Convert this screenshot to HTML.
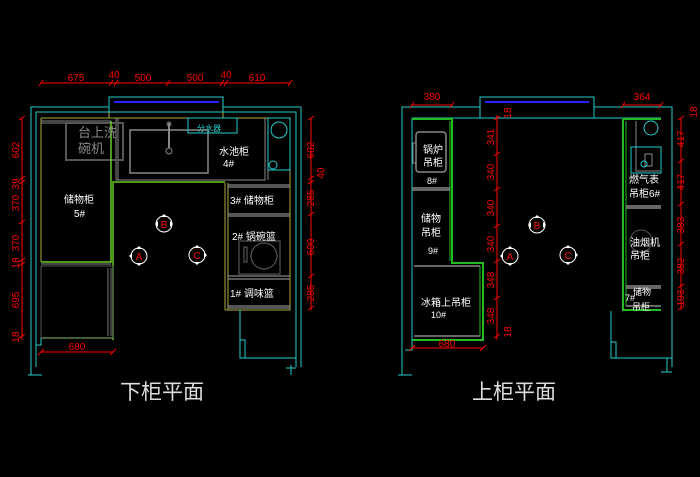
<!DOCTYPE html>
<html><head><meta charset="utf-8"><style>
html,body{margin:0;padding:0;background:#000;width:700px;height:477px;overflow:hidden}
svg{display:block}
text{font-family:"Liberation Sans","Noto Sans CJK SC",sans-serif}
.r{fill:#f00;font-size:10px}
.w{fill:#fff;font-size:10px}
.g{fill:#888;font-size:13px}
</style></head><body>
<svg width="700" height="477" viewBox="0 0 700 477" xmlns="http://www.w3.org/2000/svg">
<rect width="700" height="477" fill="#000"/>
<!-- ========== LEFT PLAN ========== -->
<g fill="none" stroke-width="1">
<!-- walls -->
<path d="M31 367 V107 H109 M223 107 H301 V367" stroke="#2cc"/>
<path d="M36 367 V112 H109 M223 112 H296 V367" stroke="#2cc"/>
<rect x="109" y="97" width="114" height="15" stroke="#2cc"/>
<line x1="114" y1="102" x2="219" y2="102" stroke="#22f" stroke-width="2"/>
<path d="M109 112 V118 M223 112 V118" stroke="#aa4"/>
<!-- yellow counters -->
<path d="M41 118 H290 V310 H225 M41 118 V262" stroke="#aa4"/>
<!-- gray inner lines -->
<path d="M41 121 H111 M41 123 H111" stroke="#888"/>
<path d="M116 118 V180 H265 V118 M118 118 V180" stroke="#888"/>
<path d="M265 118 V180 M268 118 V180" stroke="#888"/>
<rect x="268" y="118" width="22" height="52" stroke="#2cc"/>
<circle cx="279" cy="130" r="8" stroke="#2cc"/>
<circle cx="273" cy="165" r="4" stroke="#2cc"/>
<!-- dishwasher box -->
<rect x="66" y="123" width="57" height="37" stroke="#555" stroke-width="2"/>
<!-- sink -->
<rect x="130" y="130" width="78" height="43" stroke="#888" stroke-width="1.5"/>
<path d="M169 123 V148" stroke="#888" stroke-width="2"/>
<circle cx="169" cy="151" r="3" stroke="#888"/>
<circle cx="169" cy="124" r="2" stroke="#888"/>
<rect x="188" y="118" width="49" height="15" stroke="#2cc"/>
<!-- green -->
<path d="M113 340 V182 H225 M111 121 V262 H41 M41 338 H113" stroke="#6c2" stroke-width="1.5"/>
<path d="M41 264 H111 M41 266 H111" stroke="#888"/>
<rect x="41" y="266" width="72" height="72" stroke="#555"/>
<path d="M108 268 V336 M111 268 V336" stroke="#777"/>
<!-- right cabinets -->
<path d="M225 183 V310 M228 183 V310" stroke="#aa4"/>
<path d="M228 185 H290 M228 187 H290 M228 214 H290 M228 216 H290 M228 276 H290 M228 279 H290 M228 306 H290 M228 308 H290" stroke="#888" stroke-width="1.3"/>
<rect x="239" y="241" width="41" height="33" stroke="#666"/>
<circle cx="264" cy="256" r="13" stroke="#666"/>
<rect x="244" y="247" width="3" height="15" stroke="#666"/>
<!-- bottom right -->
<path d="M240 310 V358 H296 M240 340 H245 V358" stroke="#2cc"/>
<path d="M291 365 V375 M286 368 H296 M31 367 V375 M28 375 H42" stroke="#2cc"/>
<path d="M41 338 V345 H36" stroke="#2cc"/>
</g>
<!-- left dims -->
<g stroke="#f00" fill="none" stroke-width="1">
<line x1="41" y1="83" x2="290" y2="83"/>
<path d="M39 86 L43 80 M109 86 L113 80 M114 86 L118 80 M166 86 L170 80 M220 86 L224 80 M224 86 L228 80 M288 86 L292 80"/>
<line x1="22" y1="118" x2="22" y2="340"/>
<path d="M19 120 L25 116 M19 180 L25 176 M19 184 L25 180 M19 224 L25 220 M19 262 L25 258 M19 266 L25 262 M19 338 L25 334"/>
<line x1="311" y1="118" x2="311" y2="310"/>
<path d="M308 120 L314 116 M308 180 L314 176 M308 184 L314 180 M308 216 L314 212 M308 278 L314 274 M308 310 L314 306"/>
<line x1="41" y1="352" x2="113" y2="352"/>
<path d="M38 355 L44 349 M110 355 L116 349"/>
</g>
<g class="r" text-anchor="middle">
<text x="76" y="81">675</text><text x="114" y="78">40</text><text x="143" y="81">500</text><text x="195" y="81">500</text><text x="226" y="78">40</text><text x="257" y="81">610</text>
<text x="77" y="350">680</text>
<text transform="translate(19 150) rotate(-90)">602</text>
<text transform="translate(19 184) rotate(-90)">39</text>
<text transform="translate(19 203) rotate(-90)">370</text>
<text transform="translate(19 243) rotate(-90)">370</text>
<text transform="translate(19 263) rotate(-90)">18</text>
<text transform="translate(19 300) rotate(-90)">695</text>
<text transform="translate(19 337) rotate(-90)">18</text>
<text transform="translate(314 150) rotate(-90)">602</text>
<text transform="translate(324 173) rotate(-90)">40</text>
<text transform="translate(314 198) rotate(-90)">285</text>
<text transform="translate(314 247) rotate(-90)">600</text>
<text transform="translate(314 293) rotate(-90)">285</text>
</g>
<g class="g"><text x="78" y="137">台上洗</text><text x="78" y="153">碗机</text></g>
<g class="w">
<text x="197" y="131" font-size="8" fill="#2cc">分水器</text>
<text x="219" y="155">水池柜</text><text x="223" y="167">4#</text>
<text x="64" y="203">储物柜</text><text x="74" y="217">5#</text>
<text x="230" y="204">3# 储物柜</text>
<text x="232" y="240">2# 锅碗篮</text>
<text x="230" y="297">1# 调味篮</text>
</g>
<!-- markers left -->
<g>
<circle cx="164" cy="224" r="8" fill="none" stroke="#fff"/><text x="164" y="228" fill="#f00" font-size="10" text-anchor="middle">B</text>
<path d="M164 214 l-3 3 h6z M155 224 l3 -3 v6z M173 224 l-3 -3 v6z" fill="#fff"/>
<circle cx="139" cy="256" r="8" fill="none" stroke="#fff"/><text x="139" y="260" fill="#f00" font-size="10" text-anchor="middle">A</text>
<path d="M129 256 l3 -3 v6z M139 246 l-3 3 h6z M139 266 l-3 -3 h6z" fill="#fff"/>
<circle cx="197" cy="255" r="8" fill="none" stroke="#fff"/><text x="197" y="259" fill="#f00" font-size="10" text-anchor="middle">C</text>
<path d="M207 255 l-3 -3 v6z M197 245 l-3 3 h6z M197 265 l-3 -3 h6z" fill="#fff"/>
</g>
<!-- ========== RIGHT PLAN ========== -->
<g fill="none" stroke-width="1">
<path d="M402 367 V107 H480 M594 107 H672 V367" stroke="#2cc"/>
<path d="M412 118 H661 M412 118 V340" stroke="#2cc"/>
<rect x="480" y="97" width="114" height="21" stroke="#2cc"/>
<line x1="485" y1="102" x2="589" y2="102" stroke="#22f" stroke-width="2"/>
<!-- left cabinets -->
<path d="M412 119 H452 V263 H483 V340 H412" stroke="#2b2" stroke-width="2"/>
<path d="M450 121 V261" stroke="#2b2"/>
<path d="M412 188 H450 M412 190 H450" stroke="#888" stroke-width="1.5"/>
<rect x="416" y="132" width="30" height="40" rx="3" stroke="#888" stroke-width="1.5"/>
<path d="M416 143 h-3 v20 h3" stroke="#888"/>
<path d="M414 266 H480 M414 336 H480" stroke="#888" stroke-width="1.5"/>
<path d="M480 266 V336" stroke="#2b2"/>
<!-- right cabinets -->
<path d="M623 119 H661 M623 119 V310 H661" stroke="#2b2" stroke-width="2"/>
<path d="M626 121 V306" stroke="#2b2"/>
<path d="M626 206 H661 M626 208 H661 M626 286 H661 M626 288 H661 M626 306 H661" stroke="#888" stroke-width="1.5"/>
<path d="M636 121 V171 H660" stroke="#888"/>
<circle cx="651" cy="128" r="7" stroke="#2cc"/>
<rect x="631" y="147" width="30" height="26" stroke="#2cc"/>
<rect x="645" y="154" width="7" height="12" stroke="#888"/>
<circle cx="644" cy="164" r="3" stroke="#2cc"/>
<circle cx="641" cy="241" r="11" stroke="#555"/>
<path d="M611 311 V358 H672 M611 342 H616 V358" stroke="#2cc"/>
<path d="M402 367 V375 M398 375 H412 M412 340 V350 H405" stroke="#2cc"/>
<path d="M667 358 V372 M661 372 H672" stroke="#2cc"/>
</g>
<g stroke="#f00" fill="none">
<line x1="412" y1="105" x2="452" y2="105"/><path d="M410 108 L414 102 M450 108 L454 102"/>
<line x1="623" y1="105" x2="661" y2="105"/><path d="M621 108 L625 102 M659 108 L663 102"/>
<line x1="497" y1="115" x2="497" y2="340"/>
<path d="M494 120 L500 116 M494 156 L500 152 M494 191 L500 187 M494 228 L500 224 M494 263 L500 259 M494 300 L500 296 M494 338 L500 334"/>
<line x1="681" y1="118" x2="681" y2="310"/>
<path d="M678 120 L684 116 M678 163 L684 159 M678 206 L684 202 M678 246 L684 242 M678 288 L684 284 M678 310 L684 306"/>
<line x1="412" y1="348" x2="483" y2="348"/><path d="M409 351 L415 345 M480 351 L486 345"/>
</g>
<g class="r" text-anchor="middle">
<text x="432" y="100">380</text><text x="642" y="100">364</text><text x="447" y="347">680</text>
<text transform="translate(511 113) rotate(-90)">18</text>
<text transform="translate(494 137) rotate(-90)">341</text>
<text transform="translate(494 172) rotate(-90)">340</text>
<text transform="translate(494 208) rotate(-90)">340</text>
<text transform="translate(494 244) rotate(-90)">340</text>
<text transform="translate(494 280) rotate(-90)">348</text>
<text transform="translate(494 316) rotate(-90)">348</text>
<text transform="translate(511 332) rotate(-90)">18</text>
<text transform="translate(684 139) rotate(-90)">417</text>
<text transform="translate(684 182) rotate(-90)">417</text>
<text transform="translate(684 225) rotate(-90)">383</text>
<text transform="translate(684 266) rotate(-90)">382</text>
<text transform="translate(684 298) rotate(-90)">193</text>
<text transform="translate(697 112) rotate(-90)">18</text>
</g>
<g class="w">
<text x="423" y="153">锅炉</text><text x="423" y="166">吊柜</text><text x="427" y="184" font-size="9">8#</text>
<text x="421" y="222">储物</text><text x="421" y="236">吊柜</text><text x="428" y="254" font-size="9">9#</text>
<text x="421" y="306">冰箱上吊柜</text><text x="431" y="318" font-size="9">10#</text>
<text x="629" y="183">燃气表</text><text x="629" y="197">吊柜6#</text>
<text x="630" y="246">油烟机</text><text x="630" y="259">吊柜</text>
<text x="633" y="295" font-size="9">储物</text><text x="625" y="301" font-size="9">7#</text><text x="632" y="310" font-size="9">吊柜</text>
</g>
<g>
<circle cx="537" cy="225" r="8" fill="none" stroke="#fff"/><text x="537" y="229" fill="#f00" font-size="10" text-anchor="middle">B</text>
<path d="M537 215 l-3 3 h6z M528 225 l3 -3 v6z M546 225 l-3 -3 v6z" fill="#fff"/>
<circle cx="510" cy="256" r="8" fill="none" stroke="#fff"/><text x="510" y="260" fill="#f00" font-size="10" text-anchor="middle">A</text>
<path d="M500 256 l3 -3 v6z M510 246 l-3 3 h6z M510 266 l-3 -3 h6z" fill="#fff"/>
<circle cx="568" cy="255" r="8" fill="none" stroke="#fff"/><text x="568" y="259" fill="#f00" font-size="10" text-anchor="middle">C</text>
<path d="M578 255 l-3 -3 v6z M568 245 l-3 3 h6z M568 265 l-3 -3 h6z" fill="#fff"/>
</g>
<!-- titles -->
<text x="120" y="399" fill="#ddd" font-size="21" font-family="'Noto Serif CJK SC','Liberation Serif',serif">下柜平面</text>
<text x="472" y="399" fill="#ddd" font-size="21" font-family="'Noto Serif CJK SC','Liberation Serif',serif">上柜平面</text>
</svg>
</body></html>
